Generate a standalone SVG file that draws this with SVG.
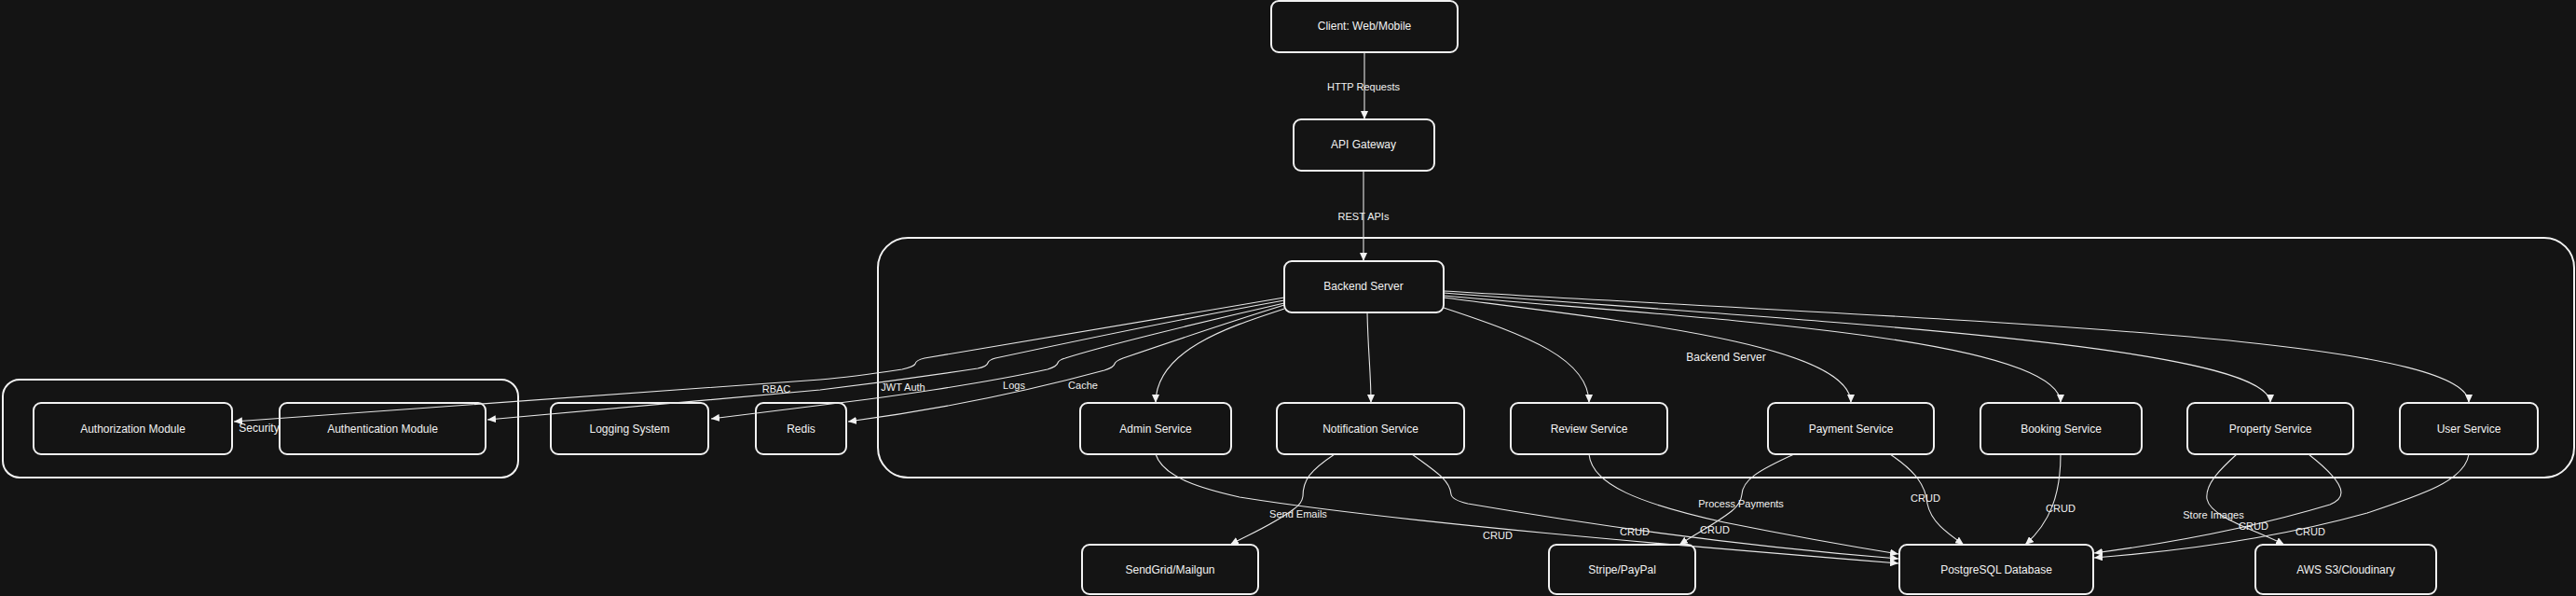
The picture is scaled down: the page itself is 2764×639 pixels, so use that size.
<svg xmlns="http://www.w3.org/2000/svg" width="2764" height="639" viewBox="0 0 2764 639">
<style>
.bg{fill:#141414}
.node rect{fill:none;stroke:#f2f2f2;stroke-width:2}
.cluster{fill:none;stroke:#f2f2f2;stroke-width:2}
.ntext{font-family:"Liberation Sans",Arial,sans-serif;font-size:12px;fill:#f2f2f2;text-anchor:middle;dominant-baseline:central}
.elabel{font-family:"Liberation Sans",Arial,sans-serif;font-size:11px;fill:#f2f2f2;text-anchor:middle;dominant-baseline:central}
.edge{fill:none;stroke:#e6e6e6;stroke-width:1.1}
.arr{marker-end:url(#ah)}
</style>
<defs>
<marker id="ah" viewBox="0 0 10 10" refX="10" refY="5" markerWidth="9" markerHeight="8" markerUnits="userSpaceOnUse" orient="auto" preserveAspectRatio="none">
<path d="M0,0 L10,5 L0,10 z" fill="#f2f2f2"/>
</marker>
</defs>
<rect class="bg" x="0" y="0" width="2764" height="639"/>

<g id="clusters">
<g id="cluster-security"><rect class="cluster" x="3" y="407" width="553" height="105" rx="18"/><text class="ntext" x="278" y="459">Security</text></g>
<g id="cluster-backend"><rect class="cluster" x="942" y="255" width="1820" height="257" rx="32"/><text class="ntext" x="1852" y="383">Backend Server</text></g>
</g>

<g id="client" class="node"><rect x="1364" y="1" width="200" height="55" rx="8"/><text class="ntext" x="1464" y="28">Client: Web/Mobile</text></g>
<g id="api-gateway" class="node"><rect x="1388" y="128" width="151" height="55" rx="8"/><text class="ntext" x="1463" y="155">API Gateway</text></g>
<g id="backend-server" class="node"><rect x="1378" y="280" width="171" height="55" rx="8"/><text class="ntext" x="1463" y="307">Backend Server</text></g>
<g id="admin-service" class="node"><rect x="1159" y="432" width="162" height="55" rx="8"/><text class="ntext" x="1240" y="460">Admin Service</text></g>
<g id="notification-service" class="node"><rect x="1370" y="432" width="201" height="55" rx="8"/><text class="ntext" x="1470.5" y="460">Notification Service</text></g>
<g id="review-service" class="node"><rect x="1621" y="432" width="168" height="55" rx="8"/><text class="ntext" x="1705" y="460">Review Service</text></g>
<g id="payment-service" class="node"><rect x="1897" y="432" width="178" height="55" rx="8"/><text class="ntext" x="1986" y="460">Payment Service</text></g>
<g id="booking-service" class="node"><rect x="2125" y="432" width="173" height="55" rx="8"/><text class="ntext" x="2211.5" y="460">Booking Service</text></g>
<g id="property-service" class="node"><rect x="2347" y="432" width="178" height="55" rx="8"/><text class="ntext" x="2436" y="460">Property Service</text></g>
<g id="user-service" class="node"><rect x="2575" y="432" width="148" height="55" rx="8"/><text class="ntext" x="2649" y="460">User Service</text></g>
<g id="authorization-module" class="node"><rect x="36" y="432" width="213" height="55" rx="8"/><text class="ntext" x="142.5" y="460">Authorization Module</text></g>
<g id="authentication-module" class="node"><rect x="300" y="432" width="221" height="55" rx="8"/><text class="ntext" x="410.5" y="460">Authentication Module</text></g>
<g id="logging-system" class="node"><rect x="591" y="432" width="169" height="55" rx="8"/><text class="ntext" x="675.5" y="460">Logging System</text></g>
<g id="redis" class="node"><rect x="811" y="432" width="97" height="55" rx="8"/><text class="ntext" x="859.5" y="460">Redis</text></g>
<g id="sendgrid" class="node"><rect x="1161" y="584" width="189" height="53" rx="8"/><text class="ntext" x="1255.5" y="611">SendGrid/Mailgun</text></g>
<g id="stripe" class="node"><rect x="1662" y="584" width="157" height="53" rx="8"/><text class="ntext" x="1740.5" y="611">Stripe/PayPal</text></g>
<g id="postgres" class="node"><rect x="2038" y="584" width="208" height="53" rx="8"/><text class="ntext" x="2142" y="611">PostgreSQL Database</text></g>
<g id="s3" class="node"><rect x="2420" y="584" width="194" height="53" rx="8"/><text class="ntext" x="2517" y="611">AWS S3/Cloudinary</text></g>

<g id="connectors">
<path class="edge arr" d="M1464,56 L1464,128"/>
<path class="edge arr" d="M1463,183 L1463,280"/>
<path class="edge arr" d="M1378,319 C1200,348 1030,378 992,384 Q983,386 982,390 Q981,393 968,396 C935,401 905,405 880,407 L251,452"/>
<path class="edge arr" d="M1378,322 C1250,345 1110,375 1068,384 Q1061,386 1060,389 Q1059,393 1049,395 C990,404 930,412 880,418 L523,450"/>
<path class="edge arr" d="M1378,325 C1290,345 1180,372 1143,384 Q1136,386 1135,389 Q1134,393 1124,396 C1050,412 950,426 900,432 L763,449"/>
<path class="edge arr" d="M1378,327 C1320,345 1240,372 1205,384 Q1197,387 1196,390 Q1195,394 1185,397 C1100,420 1000,440 910,452"/>
<path class="edge arr" d="M1378,331 C1320,350 1240,375 1240,432"/>
<path class="edge arr" d="M1467,335 C1468,380 1471,400 1471,432"/>
<path class="edge arr" d="M1549,330 C1640,360 1705,385 1705,432"/>
<path class="edge arr" d="M1549,319 C1750,345 1986,370 1986,432"/>
<path class="edge arr" d="M1549,317 C1800,340 2211,360 2211,432"/>
<path class="edge arr" d="M1549,314 C1950,345 2436,370 2436,432"/>
<path class="edge arr" d="M1549,312 C2100,345 2649,360 2649,432"/>
<path class="edge arr" d="M1240,487 C1248,512 1290,524 1330,533 C1500,560 1800,585 2037,604"/>
<path class="edge arr" d="M1432,487 C1405,505 1398,515 1398,532 Q1397,540 1388,546 C1365,563 1340,573 1320,584"/>
<path class="edge arr" d="M1515,487 C1540,505 1556,515 1557,530 Q1558,536 1575,540 C1750,570 1900,588 2037,599"/>
<path class="edge arr" d="M1705,487 C1708,520 1760,540 1850,560 C1950,580 2000,588 2037,594"/>
<path class="edge arr" d="M1925,487 C1885,505 1870,515 1869,530 Q1868,540 1858,548 C1840,562 1820,572 1802,584"/>
<path class="edge arr" d="M2028,487 C2055,505 2066,520 2068,540 C2072,560 2090,572 2107,584"/>
<path class="edge arr" d="M2211,487 C2211,530 2200,560 2173,584"/>
<path class="edge arr" d="M2400,487 C2380,505 2366,520 2368,535 C2372,555 2420,568 2451,584"/>
<path class="edge arr" d="M2477,487 C2500,505 2512,518 2512,528 Q2512,536 2500,541 C2420,565 2330,582 2247,593"/>
<path class="edge arr" d="M2649,487 C2645,515 2600,530 2540,550 C2450,575 2350,590 2247,598"/>
</g>

<g id="edge-labels">
<text class="elabel" x="1463" y="93">HTTP Requests</text>
<text class="elabel" x="1463" y="232">REST APIs</text>
<text class="elabel" x="833" y="417">RBAC</text>
<text class="elabel" x="969" y="415">JWT Auth</text>
<text class="elabel" x="1088" y="413">Logs</text>
<text class="elabel" x="1162" y="413">Cache</text>
<text class="elabel" x="1393" y="551">Send Emails</text>
<text class="elabel" x="1607" y="574">CRUD</text>
<text class="elabel" x="1754" y="570">CRUD</text>
<text class="elabel" x="1840" y="568">CRUD</text>
<text class="elabel" x="1868" y="540">Process Payments</text>
<text class="elabel" x="2066" y="534">CRUD</text>
<text class="elabel" x="2211" y="545">CRUD</text>
<text class="elabel" x="2375" y="552">Store Images</text>
<text class="elabel" x="2418" y="564">CRUD</text>
<text class="elabel" x="2479" y="570">CRUD</text>
</g>
</svg>
